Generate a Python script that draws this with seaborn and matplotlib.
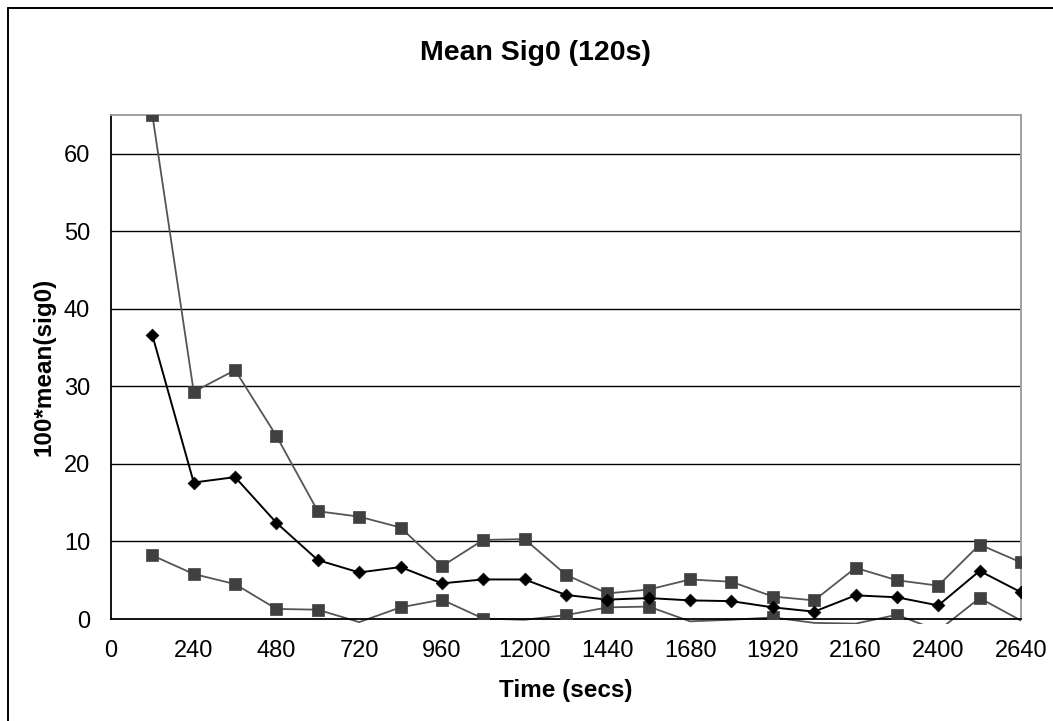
import numpy as np
import pandas as pd
import matplotlib
matplotlib.use("Agg")
import matplotlib.pyplot as plt
import seaborn as sns
from matplotlib.transforms import Bbox, TransformedBbox
from matplotlib.lines import Line2D

# === Dados ===
tempo = [120, 240, 360, 480, 600, 720, 840, 960, 1080, 1200, 1320,
         1440, 1560, 1680, 1800, 1920, 2040, 2160, 2280, 2400, 2520, 2640]
sig_sup = [65.0, 29.3, 32.1, 23.6, 13.9, 13.2, 11.8, 6.8, 10.2, 10.3, 5.7,
           3.3, 3.8, 5.1, 4.8, 2.9, 2.4, 6.6, 5.0, 4.3, 9.6, 7.3]
sig_media = [36.6, 17.6, 18.3, 12.4, 7.6, 6.0, 6.7, 4.6, 5.1, 5.1, 3.1,
             2.5, 2.7, 2.4, 2.3, 1.5, 0.95, 3.05, 2.8, 1.75, 6.2, 3.45]
sig_inf = [8.2, 5.8, 4.5, 1.3, 1.2, -0.4, 1.5, 2.5, 0.05, -0.1, 0.5,
           1.5, 1.6, -0.3, -0.1, 0.2, -0.5, -0.6, 0.55, -1.5, 2.7, -0.2]

x_ticks = list(range(0, 2641, 240))
y_ticks = list(range(0, 61, 10))

df = pd.DataFrame({"tempo": tempo, "sup": sig_sup, "media": sig_media, "inf": sig_inf})

sns.set_style("white")
plt.rcParams["font.family"] = ["Liberation Sans", "DejaVu Sans"]
plt.rcParams["text.color"] = "black"
plt.rcParams["axes.labelcolor"] = "black"

fig = plt.figure(figsize=(10.53, 7.21), dpi=100)
ax = fig.add_axes([111 / 1053, 1 - 619 / 721, 910 / 1053, 504 / 721])

cinza_linha = "#555555"
cinza_marca = "#404040"

# linhas (Excel deixa a linha passar um pouco abaixo do eixo)
sns.lineplot(data=df, x="tempo", y="sup", ax=ax, color=cinza_linha, lw=1.3)
sns.lineplot(data=df, x="tempo", y="inf", ax=ax, color=cinza_linha, lw=1.3)
sns.lineplot(data=df, x="tempo", y="media", ax=ax, color="black", lw=1.4)

clip = TransformedBbox(Bbox([[0, -0.0095], [1, 1.002]]), ax.transAxes)
for ln in ax.get_lines():
    ln.set_clip_box(clip)

# marcadores só dentro da escala
for col in ["sup", "inf"]:
    vis = df[df[col] >= 0]
    sns.scatterplot(data=vis, x="tempo", y=col, ax=ax, marker="s", s=70,
                    color=cinza_marca, edgecolor=cinza_marca, linewidth=0.5, zorder=3)
sns.scatterplot(data=df, x="tempo", y="media", ax=ax, marker="D", s=42,
                color="black", edgecolor="black", linewidth=0.5, zorder=4)

ax.set_xlim(0, 2640)
ax.set_ylim(0, 65)
ax.set_xticks(x_ticks)
ax.set_yticks(y_ticks)

for v in y_ticks[1:]:
    ax.axhline(v, color="black", lw=1.0, zorder=1)

for s in ["left", "bottom"]:
    ax.spines[s].set_color("black")
    ax.spines[s].set_linewidth(1.3)
for s in ["top", "right"]:
    ax.spines[s].set_color("#999999")
    ax.spines[s].set_linewidth(1.3)

ax.tick_params(axis="both", direction="out", length=6, width=1.1, color="black",
               labelsize=17, labelcolor="black")
ax.tick_params(axis="x", pad=9)
ax.tick_params(axis="y", pad=9)

ax.set_xlabel("Time (secs)", fontsize=17.5, fontweight="bold", labelpad=12)
ax.set_ylabel("100*mean(sig0)", fontsize=17.5, fontweight="bold", labelpad=6)

fig.text(535 / 1053, 1 - 53 / 721, "Mean Sig0 (120s)", fontsize=20.5,
         fontweight="bold", ha="center", va="center")

# moldura da área do gráfico (só esquerda e topo aparecem)
fig.add_artist(Line2D([8 / 1053, 8 / 1053], [0, 1 - 8 / 721], color="black", lw=1.4,
                      transform=fig.transFigure))
fig.add_artist(Line2D([8 / 1053, 1], [1 - 8 / 721, 1 - 8 / 721], color="black", lw=1.4,
                      transform=fig.transFigure))

fig.savefig("out.png", dpi=100)
